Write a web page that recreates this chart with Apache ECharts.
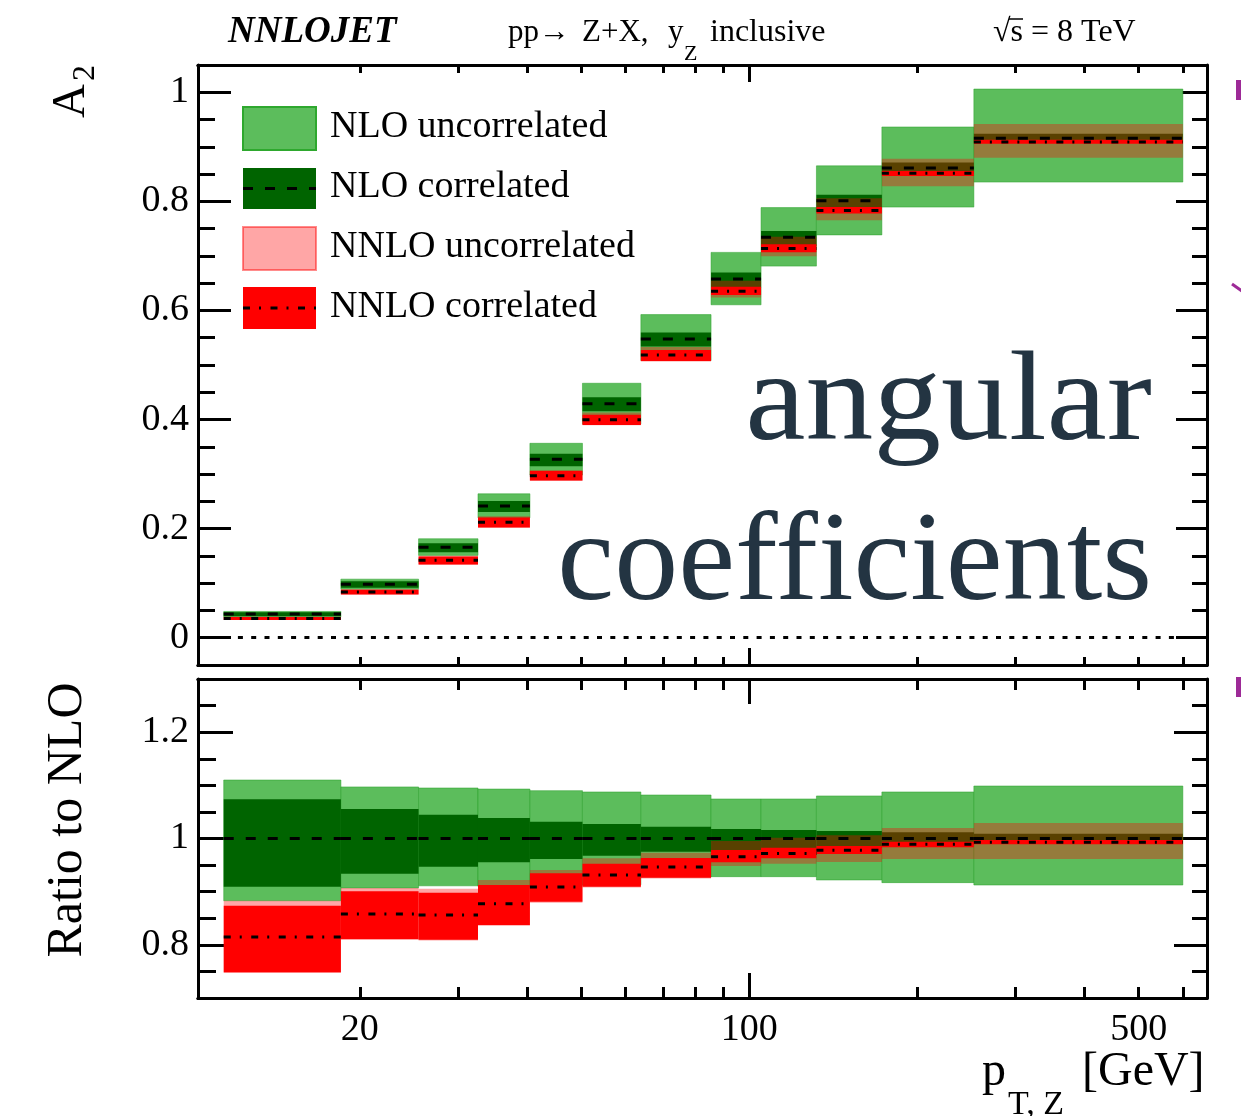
<!DOCTYPE html>
<html>
<head>
<meta charset="utf-8">
<title>A2 angular coefficient, Z+X at 8 TeV</title>
<script src="https://cdn.jsdelivr.net/npm/echarts@6/dist/echarts.min.js"></script>
<style>
  html, body { margin: 0; padding: 0; background: #fff; }
  #chart { width: 1241px; height: 1116px; }
</style>
</head>
<body>
<div id="chart"></div>
<script>
// pT,Z bin edges [GeV]
const binEdges = [11.4, 18.5, 25.5, 32.6, 40.4, 50.2, 63.9, 85.4, 105, 132, 173, 253, 600];

// NLO central value of A2 per bin
const nloCentral = [0.0434, 0.0979, 0.1657, 0.2414, 0.327, 0.429, 0.5476, 0.6576, 0.734, 0.801, 0.861, 0.9155];

// Everything below is relative to the NLO central value (ratio to NLO)
const nnloRatio = [0.8147, 0.858, 0.856, 0.8774, 0.9088, 0.9313, 0.9464, 0.9658, 0.972, 0.9778, 0.989, 0.9928];

const nloUncHi  = [1.110, 1.097, 1.095, 1.093, 1.090, 1.0875, 1.0818, 1.0743, 1.0743, 1.080, 1.0875, 1.0987];
const nloUncLo  = [0.883, 0.907, 0.911, 0.910, 0.912, 0.913, 0.928, 0.9282, 0.9282, 0.922, 0.917, 0.9125];
const nloCorHi  = [1.0737, 1.0555, 1.0448, 1.0386, 1.0317, 1.0273, 1.0222, 1.0179, 1.016, 1.0141, 1.0117, 1.009];
const nloCorLo  = [0.9094, 0.9338, 0.947, 0.9552, 0.9614, 0.9677, 0.9752, 0.975, 0.978, 0.982, 0.988, 0.991];
const nnloUncHi = [0.883, 0.9069, 0.9057, 0.922, 0.9408, 0.9627, 0.9733, 0.9953, 1.0015, 1.006, 1.0197, 1.029];
const nnloUncLo = [0.747, 0.809, 0.808, 0.836, 0.879, 0.908, 0.925, 0.9483, 0.9526, 0.9558, 0.9614, 0.9614];
const nnloCorHi = [0.8736, 0.9006, 0.898, 0.9125, 0.9345, 0.9526, 0.9633, 0.9784, 0.9827, 0.9859, 0.994, 0.997];
const nnloCorLo = [0.7484, 0.811, 0.8097, 0.8373, 0.881, 0.9094, 0.9263, 0.9552, 0.9627, 0.9708, 0.9834, 0.989];

// Axis ticks
const xRange = [10.25, 663];
const xMinorTicks = [20, 30, 40, 50, 60, 70, 80, 90, 200, 300, 400, 500, 600];
const xMajorTicks = [100];
const xTickLabels = [20, 100, 500];
const topYLabels = [0, 0.2, 0.4, 0.6, 0.8, 1];
const ratioYLabels = [0.8, 1, 1.2];

const FONT = '"Liberation Serif", "Times New Roman", serif';
const C_NLO_UNC = '#5cbd5c';
const C_NLO_COR = '#006400';
const C_NNLO_UNC = 'rgba(255,0,0,0.35)';
const C_NNLO_COR = '#ff0000';
const DASH_NLO = [10, 12];
const DASH_NNLO = [7, 9, 2, 9.5];

const lg = Math.log10;
const X_MIN = lg(xRange[0]);
const X_MAX = lg(xRange[1]);

function bandData(lo, hi, scale) {
  return binEdges.slice(0, -1).map((e, i) => {
    const s = scale ? scale[i] : 1;
    return [lg(e), lg(binEdges[i + 1]), lo[i] * s, hi[i] * s];
  });
}
function lineData(vals, scale) {
  return binEdges.slice(0, -1).map((e, i) => {
    const s = scale ? scale[i] : 1;
    return [lg(e), lg(binEdges[i + 1]), vals[i] * s];
  });
}
const ones = nloCentral.map(v => v / v);

function rectRender(style) {
  return function (params, api) {
    const p0 = api.coord([api.value(0), api.value(3)]);
    const p1 = api.coord([api.value(1), api.value(2)]);
    return {
      type: 'rect',
      shape: { x: p0[0], y: p0[1], width: p1[0] - p0[0], height: p1[1] - p0[1] },
      style: style
    };
  };
}
function segRender(dash) {
  return function (params, api) {
    const p0 = api.coord([api.value(0), api.value(2)]);
    const p1 = api.coord([api.value(1), api.value(2)]);
    return {
      type: 'line',
      shape: { x1: p0[0], y1: p0[1], x2: p1[0], y2: p1[1] },
      style: { stroke: '#000', lineWidth: 3, lineDash: dash, fill: null }
    };
  };
}

function bandSeries(name, data, xi, yi, style, z) {
  return { name, type: 'custom', xAxisIndex: xi, yAxisIndex: yi, clip: true, z,
           renderItem: rectRender(style), data, silent: true };
}
function lineSeries(name, data, xi, yi, dash, z) {
  return { name, type: 'custom', xAxisIndex: xi, yAxisIndex: yi, clip: true, z,
           renderItem: segRender(dash), data, silent: true };
}

const tickStyle = { color: '#000', width: 3 };
function xAxisDef(gridIndex, position, ticks, len, labels) {
  return {
    type: 'value', gridIndex, position, min: X_MIN, max: X_MAX,
    axisLine: { show: true, onZero: false, lineStyle: tickStyle },
    axisTick: { show: true, inside: true, length: len, customValues: ticks.map(lg), lineStyle: tickStyle },
    axisLabel: labels ? {
      show: true, customValues: labels.map(lg), margin: 13,
      fontFamily: FONT, fontSize: 38, color: '#000',
      formatter: v => String(Math.round(Math.pow(10, v)))
    } : { show: false },
    splitLine: { show: false }
  };
}
function yMinorDef(gridIndex, position, min, max, len) {
  return {
    type: 'value', gridIndex, position, min, max, interval: 0.05,
    axisLine: { show: true, onZero: false, lineStyle: tickStyle },
    axisTick: { show: true, inside: true, length: len, lineStyle: tickStyle },
    axisLabel: { show: false },
    splitLine: { show: false }
  };
}
function yMajorDef(gridIndex, position, min, max, len, vals, withLabels) {
  return {
    type: 'value', gridIndex, position, min, max,
    axisLine: { show: false, onZero: false },
    axisTick: { show: true, inside: true, length: len, customValues: vals, lineStyle: tickStyle },
    axisLabel: withLabels ? {
      show: true, customValues: vals, margin: 9,
      fontFamily: FONT, fontSize: 38, color: '#000',
      formatter: v => String(Math.round(v * 10) / 10)
    } : { show: false },
    splitLine: { show: false }
  };
}

const nnloTop = nnloRatio.map((r, i) => r * nloCentral[i]);

const series = [
  // upper panel: A2
  bandSeries('NLO uncorrelated', bandData(nloUncLo, nloUncHi, nloCentral), 0, 0,
             { fill: C_NLO_UNC, stroke: 'rgba(40,160,40,0.5)', lineWidth: 1 }, 2),
  bandSeries('NLO correlated', bandData(nloCorLo, nloCorHi, nloCentral), 0, 0, { fill: C_NLO_COR }, 3),
  bandSeries('NNLO uncorrelated', bandData(nnloUncLo, nnloUncHi, nloCentral), 0, 0, { fill: C_NNLO_UNC }, 4),
  bandSeries('NNLO correlated', bandData(nnloCorLo, nnloCorHi, nloCentral), 0, 0, { fill: C_NNLO_COR }, 5),
  Object.assign(lineSeries('NLO', lineData(nloCentral), 0, 0, DASH_NLO, 6), {
    markLine: {
      silent: true, symbol: 'none', label: { show: false },
      lineStyle: { color: '#000', width: 3, type: [5, 8.3] },
      data: [{ yAxis: 0 }]
    }
  }),
  lineSeries('NNLO', lineData(nnloTop), 0, 0, DASH_NNLO, 6),

  // lower panel: ratio to NLO
  bandSeries('NLO uncorrelated', bandData(nloUncLo, nloUncHi), 4, 4,
             { fill: C_NLO_UNC, stroke: 'rgba(40,160,40,0.5)', lineWidth: 1 }, 2),
  bandSeries('NLO correlated', bandData(nloCorLo, nloCorHi), 4, 4, { fill: C_NLO_COR }, 3),
  bandSeries('NNLO uncorrelated', bandData(nnloUncLo, nnloUncHi), 4, 4, { fill: C_NNLO_UNC }, 4),
  bandSeries('NNLO correlated', bandData(nnloCorLo, nnloCorHi), 4, 4, { fill: C_NNLO_COR }, 5),
  lineSeries('NLO', lineData(ones), 4, 4, DASH_NLO, 6),
  lineSeries('NNLO', lineData(nnloRatio), 4, 4, DASH_NNLO, 6)
];

function txt(text, x, y, size, extra) {
  const el = {
    type: 'text', x, y, z: 100, silent: true,
    style: Object.assign({
      text, fill: '#000', font: size + 'px ' + FONT,
      textAlign: 'left', textVerticalAlign: 'middle', verticalAlign: 'middle'
    }, (extra && extra.style) || {})
  };
  if (extra && extra.rotation) el.rotation = extra.rotation;
  if (extra && extra.scaleX) el.scaleX = extra.scaleX;
  return el;
}

const legendRows = [
  { label: 'NLO uncorrelated', y: 107, h: 43, fill: C_NLO_UNC, stroke: '#2ea82e', dash: null, ty: 127 },
  { label: 'NLO correlated', y: 168, h: 41, fill: C_NLO_COR, stroke: null, dash: DASH_NLO, ty: 187 },
  { label: 'NNLO uncorrelated', y: 227, h: 43, fill: C_NNLO_UNC, stroke: 'rgba(255,0,0,0.45)', dash: null, ty: 247 },
  { label: 'NNLO correlated', y: 287, h: 42, fill: C_NNLO_COR, stroke: null, dash: DASH_NNLO, ty: 307 }
];
const legendGraphics = [];
legendRows.forEach(r => {
  legendGraphics.push({
    type: 'rect', z: 90, silent: true,
    shape: { x: 243, y: r.y, width: 73, height: r.h },
    style: r.stroke ? { fill: r.fill, stroke: r.stroke, lineWidth: 2 } : { fill: r.fill }
  });
  if (r.dash) {
    legendGraphics.push({
      type: 'line', z: 91, silent: true,
      shape: { x1: 243, y1: r.y + r.h / 2, x2: 316, y2: r.y + r.h / 2 },
      style: { stroke: '#000', lineWidth: 3, lineDash: r.dash }
    });
  }
  legendGraphics.push(txt(r.label, 330, r.ty, 38));
});

const PURPLE = '#9d2a97';
const graphic = [
  // header
  txt('NNLOJET', 228, 32, 37, { style: { font: 'italic bold 37px ' + FONT } }),
  txt('pp\u2192', 508, 33, 31),
  txt('Z+X,', 582, 33, 31),
  txt('y', 668, 33, 31),
  txt('Z', 684, 54, 22),
  txt('inclusive', 710, 33, 32),
  txt('\u221As = 8 TeV', 993, 33, 32),
  { type: 'line', z: 100, silent: true, shape: { x1: 1009, y1: 19, x2: 1023, y2: 19 }, style: { stroke: '#000', lineWidth: 1.5 } },

  // axis titles
  txt('A', 72, 101, 47, { rotation: Math.PI / 2, style: { textAlign: 'center' } }),
  txt('2', 86, 73, 32, { rotation: Math.PI / 2, style: { textAlign: 'center' } }),
  txt('Ratio to NLO', 68, 820, 50, { rotation: Math.PI / 2, style: { textAlign: 'center' } }),
  txt('p', 982, 1072, 48),
  txt('T, Z', 1008, 1105, 34),
  txt('[GeV]', 1082, 1072, 48),

  // overlay title
  txt('angular', 1152, 405, 128, { scaleX: 1.06, style: { textAlign: 'right', fill: '#233442' } }),
  txt('coefficients', 1152, 565, 128, { style: { textAlign: 'right', fill: '#233442' } }),

  // edge marks
  { type: 'rect', z: 100, silent: true, shape: { x: 1236, y: 80, width: 6, height: 20 }, style: { fill: PURPLE } },
  { type: 'line', z: 100, silent: true, shape: { x1: 1232, y1: 284, x2: 1242, y2: 291 }, style: { stroke: PURPLE, lineWidth: 3 } },
  { type: 'rect', z: 100, silent: true, shape: { x: 1236, y: 677, width: 6, height: 20 }, style: { fill: PURPLE } }
].concat(legendGraphics);

const option = {
  animation: false,
  backgroundColor: '#ffffff',
  grid: [
    { left: 198, top: 65, width: 1009, height: 600 },
    { left: 198, top: 679, width: 1009, height: 319 }
  ],
  xAxis: [
    xAxisDef(0, 'bottom', xMinorTicks, 8, null),
    xAxisDef(0, 'bottom', xMajorTicks, 17, null),
    xAxisDef(0, 'top', xMinorTicks, 8, null),
    xAxisDef(0, 'top', xMajorTicks, 17, null),
    xAxisDef(1, 'bottom', xMinorTicks, 11, xTickLabels),
    xAxisDef(1, 'bottom', xMajorTicks, 25, null),
    xAxisDef(1, 'top', xMinorTicks, 11, null),
    xAxisDef(1, 'top', xMajorTicks, 25, null)
  ],
  yAxis: [
    yMinorDef(0, 'left', -0.05, 1.05, 17),
    yMajorDef(0, 'left', -0.05, 1.05, 33, topYLabels, true),
    yMinorDef(0, 'right', -0.05, 1.05, 15),
    yMajorDef(0, 'right', -0.05, 1.05, 31, topYLabels, false),
    yMinorDef(1, 'left', 0.7, 1.3, 18),
    yMajorDef(1, 'left', 0.7, 1.3, 35, ratioYLabels, true),
    yMinorDef(1, 'right', 0.7, 1.3, 15),
    yMajorDef(1, 'right', 0.7, 1.3, 33, ratioYLabels, false)
  ],
  series,
  graphic
};

const chart = echarts.init(document.getElementById('chart'), null, { renderer: 'canvas' });
chart.setOption(option);
</script>
</body>
</html>
